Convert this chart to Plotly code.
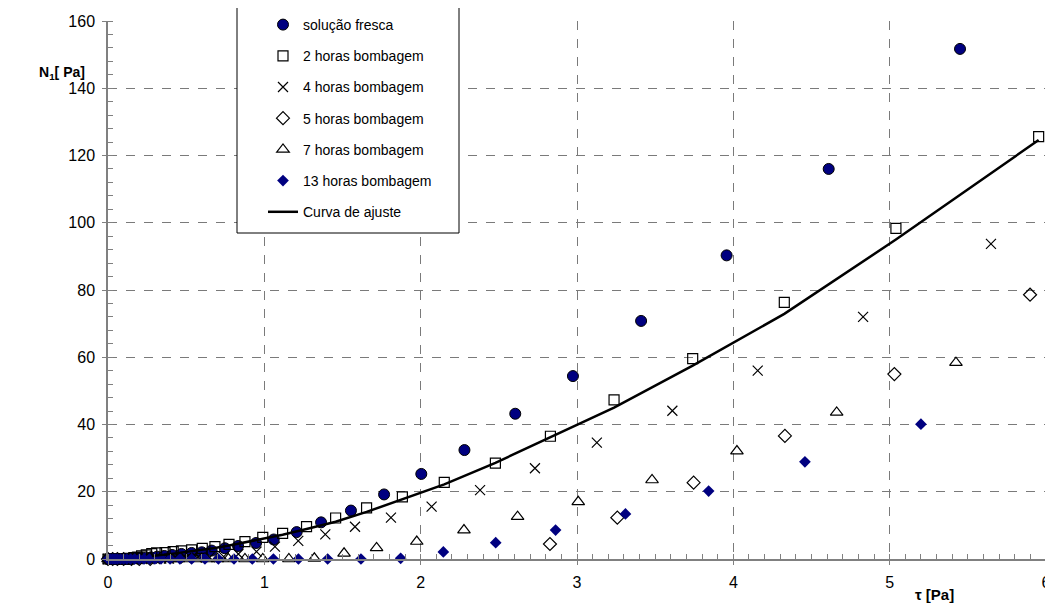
import plotly.graph_objects as go

# ---- data ----
fresca_x = [0.0, 0.01, 0.02, 0.035, 0.05, 0.065, 0.08, 0.1, 0.12, 0.14, 0.16, 0.185, 0.21, 0.24,
            0.275, 0.315, 0.36, 0.41, 0.47, 0.535, 0.6, 0.663, 0.748, 0.832, 0.947, 1.06, 1.207,
            1.363, 1.554, 1.766, 2.004, 2.28, 2.605, 2.974, 3.41, 3.957, 4.61, 5.45]
fresca_y = [0, 0, 0, 0, 0, 0, 0, 0, 0, 0, 0.1, 0.2, 0.3, 0.4,
            0.5, 0.7, 0.9, 1.2, 1.5, 1.8, 2.0, 2.5, 3.2, 3.87, 4.76, 5.8, 8.0,
            10.9, 14.4, 19.2, 25.3, 32.4, 43.2, 54.4, 70.8, 90.3, 116.0, 151.7]

h2_x = [0.0, 0.02, 0.04, 0.06, 0.08, 0.1, 0.12, 0.14, 0.165, 0.19, 0.215, 0.245, 0.28, 0.311,
        0.365, 0.417, 0.47, 0.535, 0.603, 0.684, 0.774, 0.876, 0.99, 1.117, 1.27, 1.456, 1.654,
        1.883, 2.151, 2.478, 2.83, 3.237, 3.74, 4.326, 5.04, 5.953]
h2_y = [0, 0, 0, 0, 0, 0, 0, 0.2, 0.4, 0.6, 0.9, 1.2, 1.6, 1.8,
        1.9, 2.2, 2.4, 2.7, 3.17, 3.66, 4.37, 5.16, 6.45, 7.6, 9.6, 12.2, 15.2,
        18.5, 22.8, 28.5, 36.5, 47.3, 59.6, 76.3, 98.3, 125.6]

h4_x = [0.0, 0.02, 0.04, 0.06, 0.08, 0.1, 0.13, 0.16, 0.19, 0.22, 0.26, 0.3, 0.34, 0.39, 0.44,
        0.5, 0.57, 0.65, 0.74, 0.834, 0.95, 1.068, 1.217, 1.39, 1.58, 1.81, 2.07, 2.38, 2.731,
        3.127, 3.61, 4.156, 4.83, 5.648]
h4_y = [0, 0, 0, 0, 0, 0, 0, 0, 0, 0, 0, 0, 0.1, 0.1, 0.2,
        0.3, 0.4, 0.5, 0.7, 1.5, 2.2, 3.7, 5.4, 7.3, 9.6, 12.3, 15.6, 20.5, 27.0,
        34.6, 44.1, 56.0, 72.0, 93.7]

h5_x = [0.0, 0.03, 0.06, 0.1, 0.15, 0.2, 0.27, 2.827, 3.258, 3.746, 4.33, 5.03, 5.898]
h5_y = [0, 0, 0, 0, 0, 0, 0, 4.46, 12.3, 22.7, 36.6, 55.0, 78.6]

h7_x = [0.0, 0.03, 0.06, 0.1, 0.15, 0.2, 0.26, 0.33, 0.4, 0.45, 0.5, 0.56, 0.63, 0.7, 0.77,
        0.876, 0.99, 1.157, 1.32, 1.51, 1.718, 1.975, 2.277, 2.62, 3.008, 3.48, 4.023, 4.661, 5.424]
h7_y = [0, 0, 0, 0, 0, 0, 0, 0, 0, 0, 0, 0, 0, 0, 0,
        0, 0, 0, 0.2, 1.7, 3.3, 5.2, 8.6, 12.6, 17.0, 23.5, 32.1, 43.6, 58.4]

h13_x = [0.0, 0.015, 0.03, 0.045, 0.06, 0.08, 0.1, 0.12, 0.145, 0.17, 0.2, 0.23, 0.265, 0.3,
         0.339, 0.397, 0.46, 0.535, 0.62, 0.706, 0.806, 0.923, 1.058, 1.218, 1.405, 1.618,
         1.872, 2.145, 2.48, 2.863, 3.31, 3.842, 4.458, 5.2]
h13_y = [0, 0, 0, 0, 0, 0, 0, 0, 0, 0, 0, 0, 0, 0,
         0, 0, 0, 0, 0, 0, 0, 0, 0, 0, 0, 0,
         0.2, 2.1, 4.85, 8.6, 13.4, 20.2, 28.9, 40.1]

fit_x = [0.28, 0.311, 0.365, 0.417, 0.47, 0.535, 0.603, 0.684, 0.774, 0.876, 0.99, 1.117, 1.27,
         1.456, 1.654, 1.883, 2.151, 2.478, 2.83, 3.237, 3.74, 4.326, 5.04, 5.953]
fit_y = [0.9, 1.0, 1.3, 1.6, 1.9, 2.3, 2.8, 3.3, 4.0, 4.9, 5.9, 7.2, 8.9,
         11.1, 14.0, 17.8, 22.2, 28.6, 36.3, 45.0, 57.5, 72.9, 95.0, 124.6]

x_ticks = [0, 1, 2, 3, 4, 5, 6]
y_ticks = [0, 20, 40, 60, 80, 100, 120, 140, 160]

NAVY = "#000080"
FONT = "Liberation Sans, Arial, sans-serif"

fig = go.Figure()

def add(name, xs, ys, symbol, size, color, lw, lcolor, group):
    fig.add_trace(go.Scatter(
        x=xs, y=ys, mode="markers", name=name, legendgroup=group,
        marker=dict(symbol=symbol, size=size, color=color,
                    line=dict(width=lw, color=lcolor)),
        cliponaxis=False))

add("solução fresca", fresca_x, fresca_y, "circle", 11, NAVY, 1, "black", "a")
add("2 horas bombagem", h2_x, h2_y, "square-open", 10, "black", 1.2, "black", "b")
add("4 horas bombagem", h4_x, h4_y, "x-thin-open", 10, "black", 1.2, "black", "c")
add("5 horas bombagem", h5_x, h5_y, "diamond-open", 10, "black", 1.2, "black", "d")
add("7 horas bombagem", h7_x, h7_y, "triangle-up-open", 11, "black", 1.2, "black", "e")
add("13 horas bombagem", h13_x, h13_y, "diamond", 9, NAVY, 0, NAVY, "f")

fig.add_trace(go.Scatter(x=fit_x, y=fit_y, mode="lines", name="Curva de ajuste",
                         legendgroup="g", line=dict(color="black", width=2.5),
                         cliponaxis=False))

# the page body adds an 8px offset; figure is sized to fit the window
OFF = 8
W, H = 1053 - OFF, 609 - OFF
# plot area in screen pixels: left 108, right 1046, top 21, bottom 559
L, R, T, B = 108, 1046, 21, 559
pw, ph = R - L, B - T

def px_x(p):
    return (p - L) / pw

def px_y(p):
    return (B - p) / ph

axis_font = dict(family=FONT, size=16, color="black")

fig.update_layout(
    width=W, height=H,
    margin=dict(l=L - OFF, r=W - (R - OFF), t=T - OFF, b=H - (B - OFF), autoexpand=False),
    paper_bgcolor="white", plot_bgcolor="white",
    font=dict(family=FONT, color="black"),
    showlegend=True,
    legend=dict(
        x=px_x(263), y=px_y(9), xanchor="left", yanchor="top",
        bgcolor="rgba(0,0,0,0)", borderwidth=0,
        font=dict(size=14, family=FONT),
        tracegroupgap=10, itemwidth=30,
    ),
    xaxis=dict(
        range=[0, 6], tickvals=x_ticks, ticktext=[str(v) for v in x_ticks],
        showgrid=True, gridcolor="#7a7a7a", griddash="dash", gridwidth=1,
        showline=True, linecolor="#808080", linewidth=1.5,
        ticks="outside", ticklen=4, tickcolor="#808080",
        minor=dict(dtick=0.1, ticks="inside", ticklen=5, tickcolor="#808080", showgrid=False),
        tickfont=axis_font, zeroline=False, ticklabelstandoff=4,
    ),
    yaxis=dict(
        range=[0, 160], tickvals=y_ticks, ticktext=[str(v) for v in y_ticks],
        showgrid=True, gridcolor="#7a7a7a", griddash="dash", gridwidth=1,
        showline=True, linecolor="#808080", linewidth=1.5,
        ticks="outside", ticklen=4, tickcolor="#808080",
        minor=dict(dtick=4, ticks="inside", ticklen=5, tickcolor="#808080", showgrid=False),
        tickfont=axis_font, zeroline=False, ticklabelstandoff=4,
    ),
    shapes=[dict(type="rect", xref="paper", yref="paper",
                 x0=px_x(237), x1=px_x(459), y0=px_y(233), y1=px_y(6),
                 line=dict(color="black", width=1), fillcolor="white", layer="above")],
    annotations=[
        dict(text="<b>N<sub>1</sub>[ Pa]</b>", xref="paper", yref="paper",
             x=px_x(37), y=px_y(62), showarrow=False,
             font=dict(size=14, family=FONT)),
        dict(text="<b>τ [Pa]</b>", xref="paper", yref="paper",
             x=px_x(956), y=px_y(605), showarrow=False,
             font=dict(size=15, family=FONT)),
    ],
)

fig.write_html("out.html")
